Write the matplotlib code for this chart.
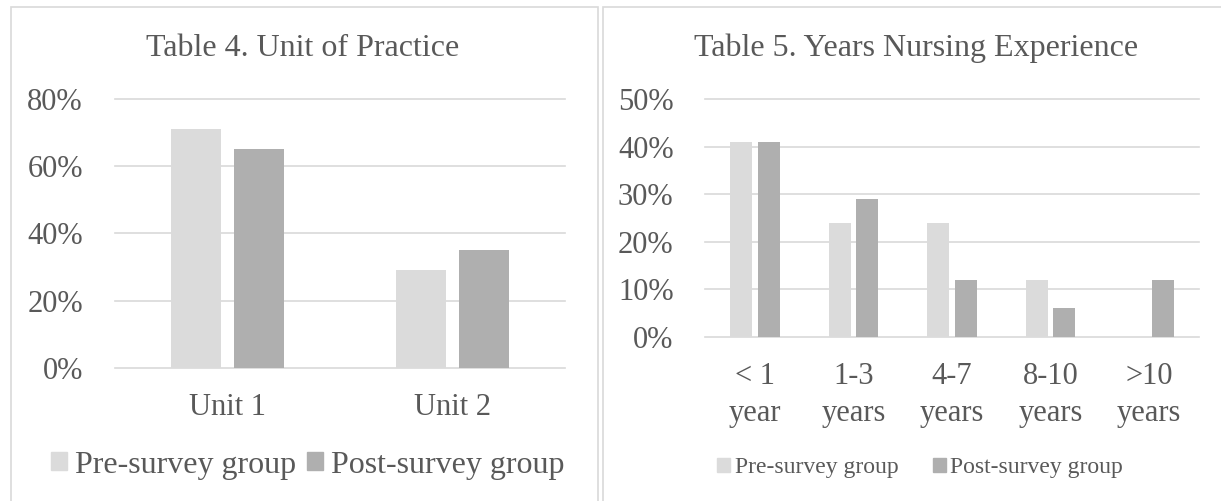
import matplotlib.pyplot as plt
import matplotlib.patches as patches
import numpy as np

units = ['Unit 1', 'Unit 2']
unit_pre = [0.71, 0.29]
unit_post = [0.65, 0.35]

years = ['< 1\nyear', '1-3\nyears', '4-7\nyears', '8-10\nyears', '>10\nyears']
years_pre = [0.41, 0.24, 0.24, 0.12, 0.0]
years_post = [0.41, 0.29, 0.12, 0.06, 0.12]

series = ['Pre-survey group', 'Post-survey group']
pre_col = '#dbdbdb'
post_col = '#afafaf'
txt = '#595959'
grid = '#d9d9d9'

plt.rcParams['font.family'] = ['Liberation Serif', 'DejaVu Serif']

fig = plt.figure(figsize=(12.21, 5.01), dpi=100)

# panel frames
fig.patches.append(patches.Rectangle((11 / 1221, -0.05), (598 - 11) / 1221, 1.05 - 7 / 501,
                                     transform=fig.transFigure, fill=False, ec=grid, lw=1.2))
fig.patches.append(patches.Rectangle((603 / 1221, -0.05), 0.6, 1.05 - 7 / 501,
                                     transform=fig.transFigure, fill=False, ec=grid, lw=1.2))


def bars(ax, cats, pre, post, ymax, step):
    x = np.arange(len(cats))
    w = 0.222
    off = 0.14
    ax.bar(x - off, pre, w, color=pre_col, zorder=2)
    ax.bar(x + off, post, w, color=post_col, zorder=2)
    ax.set_xlim(-0.5, len(cats) - 0.5)
    ax.set_ylim(0, ymax)
    ticks = np.arange(0, ymax + 1e-9, step)
    ax.set_yticks(ticks)
    ax.set_yticklabels(['%d%%' % round(t * 100) for t in ticks])
    ax.set_xticks(x)
    ax.set_xticklabels(cats, linespacing=1.35)
    for t in ticks:
        ax.axhline(t, color=grid, lw=1.2, zorder=1, clip_on=False)
    for s in ax.spines.values():
        s.set_visible(False)
    ax.tick_params(length=0, labelsize=22, colors=txt)
    ax.tick_params(axis='y', pad=23)
    ax.tick_params(axis='x', pad=18)


ax1 = fig.add_axes([0.0940, 0.2655, 0.369, 0.537])
bars(ax1, units, unit_pre, unit_post, 0.8, 0.2)
fig.text(303 / 1221, 1 - 48 / 501, 'Table 4. Unit of Practice', ha='center', va='center',
         fontsize=23, color=txt)

ax2 = fig.add_axes([0.5778, 0.3273, 0.4038, 0.475])
bars(ax2, years, years_pre, years_post, 0.5, 0.1)
fig.text(916 / 1221, 1 - 48 / 501, 'Table 5. Years Nursing Experience', ha='center', va='center',
         fontsize=23, color=txt)

handles = [patches.Patch(color=pre_col), patches.Patch(color=post_col)]
fig.legend(handles, series, loc='center', bbox_to_anchor=(308 / 1221, 1 - 465 / 501), ncol=2,
           frameon=False, fontsize=23, labelcolor=txt, handlelength=0.5, handleheight=0.5,
           handletextpad=0.25, columnspacing=0.35, borderpad=0, borderaxespad=0)
fig.legend(handles, series, loc='center', bbox_to_anchor=(920 / 1221, 1 - 468 / 501), ncol=2,
           frameon=False, fontsize=17, labelcolor=txt, handlelength=0.55, handleheight=0.55,
           handletextpad=0.2, columnspacing=1.45, borderpad=0, borderaxespad=0)

fig.savefig('out.png', dpi=100)
